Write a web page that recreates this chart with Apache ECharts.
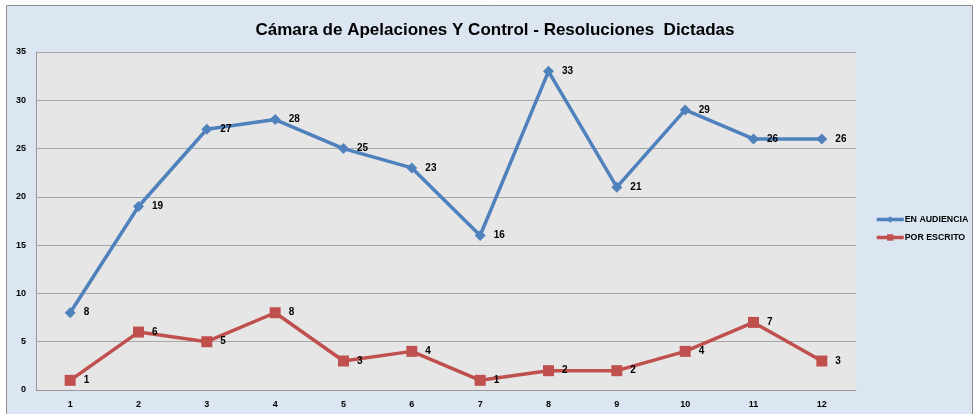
<!DOCTYPE html>
<html><head><meta charset="utf-8">
<script src="https://cdn.jsdelivr.net/npm/echarts@6/dist/echarts.min.js"></script>
<style>html,body{margin:0;padding:0;background:#fff}#c{width:973px;height:414px}</style>
</head><body><div id="c"></div>
<script>
const categories = ['1','2','3','4','5','6','7','8','9','10','11','12'];
const enAudiencia = [8,19,27,28,25,23,16,33,21,29,26,26];
const porEscrito = [1,6,5,8,3,4,1,2,2,4,7,3];
const seriesNames = ['EN AUDIENCIA','POR ESCRITO'];
const titleText = 'Cámara de Apelaciones Y Control - Resoluciones  Dictadas';

const chart = echarts.init(document.getElementById('c'));
const lbl = {show:true, position:'right', distance:8, color:'#000', fontWeight:'bold', fontSize:10, fontFamily:'Liberation Sans'};
chart.setOption({
  backgroundColor:'#fff',
  animation:false,
  graphic:[{type:'rect', z:-10, shape:{x:6.5,y:5.5,width:966,height:410}, style:{fill:'#dce6f2', stroke:'#8c8c8c', lineWidth:1}}],
  title:{text:titleText, left:490, top:17, textAlign:'center',
    textStyle:{fontFamily:'Liberation Sans', fontWeight:'bold', fontSize:17, color:'#000'}},
  legend:{orient:'vertical', left:870, top:210, itemGap:9, itemWidth:27, itemHeight:8,
    lineStyle:{width:3.5},
    textStyle:{fontFamily:'Liberation Sans', fontWeight:'bold', fontSize:8.8, color:'#000', padding:[0,0,0,-4]},
    data:seriesNames},
  grid:{left:36, right:117, top:52, bottom:24, show:true, backgroundColor:'#e6e6e6', borderWidth:0},
  xAxis:{type:'category', data:categories, boundaryGap:true,
    axisLine:{lineStyle:{color:'#999', width:1}}, axisTick:{show:false},
    axisLabel:{color:'#000', fontWeight:'bold', fontSize:9, fontFamily:'Liberation Sans', margin:10}},
  yAxis:{type:'value', min:0, max:35, interval:5,
    axisLine:{show:true, lineStyle:{color:'#999', width:1}}, axisTick:{show:false},
    splitLine:{lineStyle:{color:'#a6a6a6', width:1}},
    axisLabel:{color:'#000', fontWeight:'bold', fontSize:9, fontFamily:'Liberation Sans', margin:10}},
  series:[
    {name:seriesNames[0], type:'line', data:enAudiencia, symbol:'diamond', symbolSize:11,
      lineStyle:{color:'#4f81bd', width:3.5}, itemStyle:{color:'#4f81bd'}, label:lbl},
    {name:seriesNames[1], type:'line', data:porEscrito, symbol:'rect', symbolSize:11,
      lineStyle:{color:'#c0504d', width:3.5}, itemStyle:{color:'#c0504d'}, label:lbl}
  ]
});
</script></body></html>
